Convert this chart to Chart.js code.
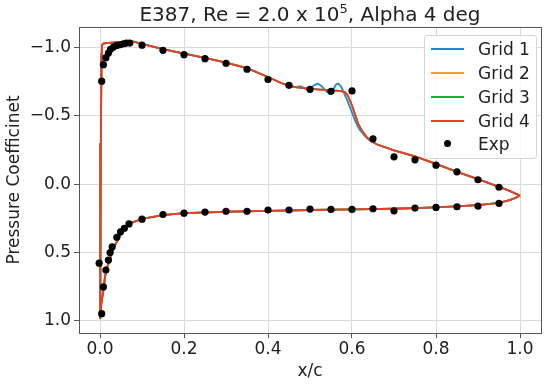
<!DOCTYPE html>
<html>
<head>
<meta charset="utf-8">
<title>E387 pressure coefficient</title>
<script src="https://cdn.jsdelivr.net/npm/chart.js@4.4.0/dist/chart.umd.min.js"></script>
<style>
  html, body { margin: 0; padding: 0; background: #fff; }
  #wrap { position: relative; width: 550px; height: 386px; font-family: 'DejaVu Sans', sans-serif; color: #222; }
  #cp { position: absolute; left: 0; top: 0; }
  #title { position: absolute; left: 79px; width: 462px; top: 2px; text-align: center; font-size: 20px; line-height: 24px; white-space: nowrap; }
  #title sup { font-size: 13px; vertical-align: 8px; line-height: 0; }
  #legend { position: absolute; left: 424px; top: 35px; width: 111px; height: 122px; border: 1px solid #d6d6d6; border-radius: 3px; background: rgba(255,255,255,0.85); font-size: 17px; }
  .row { position: absolute; left: 0; height: 20px; line-height: 20px; white-space: nowrap; }
  .swatch { position: absolute; left: 6px; top: 9px; width: 33px; height: 2px; }
  .dot { position: absolute; left: 19px; top: 6px; width: 7px; height: 7px; border-radius: 50%; background: #000; }
  .lbl { position: absolute; left: 53px; top: 0; }
</style>
</head>
<body>
<div id="wrap">
  <canvas id="cp" width="550" height="386"></canvas>
  <div id="title">E387, Re = 2.0 x 10<sup>5</sup>, Alpha 4 deg</div>
  <div id="legend"></div>
</div>
<script>
// --- data (x/c, Cp) ---
const xTicks = [0.0, 0.2, 0.4, 0.6, 0.8, 1.0];
const yTicks = [-1.0, -0.5, 0.0, 0.5, 1.0];

// experiment: upper surface then lower surface
const expX = [0.004, 0.008, 0.014, 0.02, 0.025, 0.032, 0.04, 0.048, 0.056, 0.063, 0.071,
  0.1, 0.15, 0.2, 0.25, 0.3, 0.35, 0.4, 0.45, 0.5, 0.55, 0.6, 0.65, 0.7, 0.75, 0.8, 0.85, 0.9, 0.95,
  -0.002, 0.004, 0.008, 0.014, 0.02, 0.024, 0.029, 0.04, 0.049, 0.058, 0.069,
  0.1, 0.15, 0.2, 0.25, 0.3, 0.35, 0.4, 0.45, 0.5, 0.55, 0.6, 0.65, 0.7, 0.75, 0.8, 0.85, 0.9, 0.95];
const expCp = [-0.755, -0.876, -0.927, -0.961, -0.988, -1.005, -1.017, -1.022, -1.029, -1.034, -1.034,
  -1.019, -0.981, -0.949, -0.92, -0.886, -0.842, -0.767, -0.724, -0.695, -0.68, -0.683, -0.332, -0.2, -0.178, -0.139, -0.09, -0.032, 0.023,
  0.58, 0.95, 0.754, 0.63, 0.557, 0.502, 0.46, 0.39, 0.35, 0.324, 0.292,
  0.257, 0.223, 0.213, 0.205, 0.2, 0.2, 0.19, 0.19, 0.183, 0.186, 0.186, 0.181, 0.196, 0.176, 0.171, 0.166, 0.161, 0.141];

// CFD curves, drawn from trailing edge along upper surface, round the nose, back along lower surface.
// Aft upper part (all grids overlap)
const aftX  = [1.0, 0.975, 0.95, 0.9, 0.85, 0.8, 0.75, 0.7, 0.66];
const aftCp = [0.085, 0.05, 0.02, -0.037, -0.09, -0.148, -0.203, -0.248, -0.29];
// Separation bubble region, fine grids (2, 3, 4)
const fineMidX  = [0.645, 0.635, 0.625, 0.615, 0.605, 0.597, 0.59, 0.583, 0.57, 0.55, 0.5, 0.47];
const fineMidCp = [-0.315, -0.345, -0.385, -0.44, -0.53, -0.6, -0.65, -0.675, -0.683, -0.688, -0.698, -0.71];
// Separation bubble region, coarse grid 1 (wiggles, earlier recovery)
const grid1MidX  = [0.64, 0.63, 0.618, 0.608, 0.598, 0.588, 0.58, 0.574, 0.567, 0.562, 0.555, 0.546, 0.537, 0.527, 0.518, 0.51, 0.5, 0.49, 0.482, 0.475, 0.468];
const grid1MidCp = [-0.325, -0.355, -0.4, -0.46, -0.54, -0.62, -0.675, -0.715, -0.737, -0.73, -0.69, -0.663, -0.685, -0.72, -0.737, -0.725, -0.7, -0.697, -0.712, -0.718, -0.71];
// Front upper part and nose (all grids overlap)
const frontX  = [0.45, 0.43, 0.4, 0.35, 0.3, 0.25, 0.2, 0.15, 0.1, 0.08, 0.05, 0.02, 0.008, 0.005, 0.004, 0.003, 0.002, 0.001, 0.0];
const frontCp = [-0.72, -0.743, -0.785, -0.85, -0.89, -0.925, -0.956, -0.99, -1.028, -1.045, -1.04, -1.035, -1.03, -1.02, -0.95, -0.7, -0.3, 0.3, 0.99];
// Lower surface (all grids overlap)
const lowerX  = [0.003, 0.008, 0.012, 0.016, 0.024, 0.032, 0.044, 0.056, 0.07, 0.1, 0.15, 0.2, 0.3, 0.4, 0.5, 0.6, 0.7, 0.8, 0.9, 0.95, 0.975, 0.99, 1.0];
const lowerCp = [0.88, 0.78, 0.68, 0.62, 0.545, 0.47, 0.40, 0.335, 0.29, 0.255, 0.228, 0.213, 0.203, 0.196, 0.19, 0.186, 0.181, 0.171, 0.155, 0.138, 0.118, 0.1, 0.085];

const seriesNames = ['Grid 1', 'Grid 2', 'Grid 3', 'Grid 4'];
const seriesColors = ['#1f88d0', '#ff9a30', '#1fae3c', '#f03a2a'];

function toPoints(xs, ys) {
  return xs.map((x, i) => ({x: x, y: ys[i]}));
}

function curve(midX, midCp) {
  return [].concat(toPoints(aftX, aftCp), toPoints(midX, midCp), toPoints(frontX, frontCp), toPoints(lowerX, lowerCp));
}

function fmt(v) {
  const s = Math.abs(v).toFixed(1);
  return v < 0 ? '\u2212' + s : s;
}

document.addEventListener('DOMContentLoaded', function() {
  const font = {family: "'DejaVu Sans', sans-serif", size: 17};
  const mids = [[grid1MidX, grid1MidCp], [fineMidX, fineMidCp], [fineMidX, fineMidCp], [fineMidX, fineMidCp]];

  const datasets = seriesNames.map((name, i) => ({
    label: name,
    data: curve(mids[i][0], mids[i][1]),
    showLine: true,
    borderColor: seriesColors[i],
    backgroundColor: seriesColors[i],
    borderWidth: 1.8,
    pointRadius: 0,
    tension: 0,
    order: 4 - i
  }));
  datasets.push({
    label: 'Exp',
    data: toPoints(expX, expCp),
    showLine: false,
    pointRadius: 3.6,
    pointBorderWidth: 0,
    backgroundColor: '#000',
    borderColor: '#000',
    order: 0
  });

  // box round the plot like matplotlib spines
  const frame = {
    id: 'frame',
    afterDraw(chart) {
      const a = chart.chartArea, c = chart.ctx;
      c.save();
      c.strokeStyle = '#555';
      c.lineWidth = 1;
      c.strokeRect(Math.round(a.left) + 0.5, Math.round(a.top) + 0.5, Math.round(a.right - a.left), Math.round(a.bottom - a.top));
      c.restore();
    }
  };

  const grid = {color: '#dadada', lineWidth: 1, tickColor: '#555', tickLength: 5};

  new Chart(document.getElementById('cp').getContext('2d'), {
    type: 'scatter',
    data: {datasets: datasets},
    options: {
      responsive: false,
      animation: false,
      devicePixelRatio: 1,
      layout: {padding: {top: 27, right: 9, left: 0, bottom: 0}},
      plugins: {legend: {display: false}, title: {display: false}, tooltip: {enabled: false}},
      scales: {
        x: {
          type: 'linear', min: -0.05, max: 1.05,
          afterBuildTicks: s => { s.ticks = xTicks.map(v => ({value: v})); },
          afterFit: s => { s.height = 53; },
          ticks: {callback: v => fmt(v), font: font, color: '#222', padding: 1, maxRotation: 0, autoSkip: false},
          grid: grid,
          border: {color: '#555'},
          title: {display: true, text: 'x/c', font: font, color: '#222'}
        },
        y: {
          type: 'linear', reverse: true, min: -1.152, max: 1.092,
          afterBuildTicks: s => { s.ticks = yTicks.map(v => ({value: v})); },
          afterFit: s => { s.width = 79; },
          ticks: {callback: v => fmt(v), font: font, color: '#222', padding: 3, autoSkip: false},
          grid: grid,
          border: {color: '#555'},
          title: {display: true, text: 'Pressure Coefficinet', font: font, color: '#222'}
        }
      }
    },
    plugins: [frame]
  });

  // legend in the upper right, like the matplotlib one
  const legend = document.getElementById('legend');
  const rowTops = [3, 27, 51, 75, 98];
  datasets.forEach((d, i) => {
    const row = document.createElement('div');
    row.className = 'row';
    row.style.top = rowTops[i] + 'px';
    const mark = document.createElement('div');
    if (d.showLine) {
      mark.className = 'swatch';
      mark.style.background = d.borderColor;
    } else {
      mark.className = 'dot';
    }
    const lbl = document.createElement('span');
    lbl.className = 'lbl';
    lbl.textContent = d.label;
    row.appendChild(mark);
    row.appendChild(lbl);
    legend.appendChild(row);
  });
});
</script>
</body>
</html>
